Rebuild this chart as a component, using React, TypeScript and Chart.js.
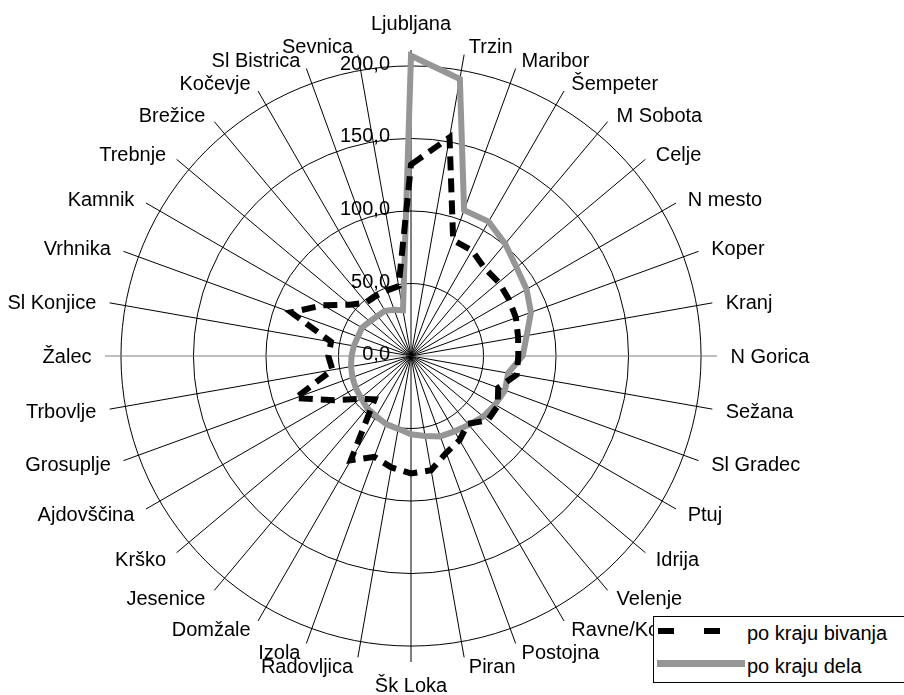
import React, { useEffect, useRef } from "react";
import { Chart, registerables } from "chart.js";

Chart.register(...registerables);

const categories: string[] = [
  "Ljubljana", "Trzin", "Maribor", "Šempeter", "M Sobota", "Celje", "N mesto", "Koper", "Kranj",
  "N Gorica", "Sežana", "Sl Gradec", "Ptuj", "Idrija", "Velenje", "Ravne/Koroška", "Postojna", "Piran",
  "Šk Loka", "Radovljica", "Izola", "Domžale", "Jesenice", "Krško", "Ajdovščina", "Grosuplje", "Trbovlje",
  "Žalec", "Sl Konjice", "Vrhnika", "Kamnik", "Trebnje", "Brežice", "Kočevje", "Sl Bistrica", "Sevnica",
];

const poKrajuBivanja: number[] = [
  132, 153, 85, 84, 79, 79, 78, 77, 75,
  74, 74, 64, 69, 69, 61, 67, 71, 80,
  81, 78, 74, 83, 39, 46, 61, 85, 55,
  57, 56, 88, 70, 55, 48, 48, 48, 49,
];

const poKrajuDela: number[] = [
  207, 194, 107, 107, 101, 95, 92, 88, 81,
  77, 68, 69, 67, 65, 62, 60, 59, 56,
  54, 51, 50, 48, 47, 45, 44, 43, 42,
  41, 40, 39, 39, 37, 36, 36, 34, 32,
];

const seriesNames: string[] = ["po kraju bivanja", "po kraju dela"];
const tickValues: number[] = [0, 50, 100, 150, 200];
const tickLabels: string[] = ["0,0", "50,0", "100,0", "150,0", "200,0"];
const axisMax = 211;

const FONT = '"Liberation Sans", Arial, sans-serif';
const GRAY = "#969696";

const textPlugin = {
  id: "excelText",
  beforeDatasetsDraw(chart: any) {
    const scale = chart.scales.r;
    const ctx = chart.ctx;
    ctx.save();
    ctx.font = `20px ${FONT}`;
    ctx.fillStyle = "#000";
    ctx.textAlign = "right";
    ctx.textBaseline = "middle";
    tickValues.forEach((v, i) => {
      const d = scale.getDistanceFromCenterForValue(v);
      ctx.fillText(tickLabels[i], scale.xCenter - 21, scale.yCenter - d - 1.5);
    });
    ctx.restore();
  },
  afterDraw(chart: any) {
    const scale = chart.scales.r;
    const ctx = chart.ctx;
    ctx.save();
    ctx.font = `20px ${FONT}`;
    ctx.fillStyle = "#000";
    ctx.textBaseline = "alphabetic";
    const R = scale.drawingArea;
    categories.forEach((label, i) => {
      const a = scale.getIndexAngle(i);
      const s = Math.sin(a);
      const c = Math.cos(a);
      const ex = scale.xCenter + R * s;
      const ey = scale.yCenter - R * c;
      let x: number;
      let y: number;
      let align: CanvasTextAlign;
      if (Math.abs(s) < 1e-6) {
        align = "center";
        x = ex;
        y = c > 0 ? ey - 20 : ey + 30;
      } else {
        const dx = 4 + 9.5 * Math.pow(Math.abs(s), 1.5);
        align = s > 0 ? "left" : "right";
        x = ex + (s > 0 ? dx : -dx);
        y = ey - 9 * c + 7.2;
      }
      ctx.textAlign = align;
      ctx.fillText(label, x, y);
    });
    ctx.restore();
  },
};

export default function App() {
  const canvasRef = useRef<HTMLCanvasElement | null>(null);

  useEffect(() => {
    const canvas = canvasRef.current;
    if (!canvas) return;
    const chart = new Chart(canvas, {
      type: "radar",
      data: {
        labels: categories,
        datasets: [
          {
            label: seriesNames[0],
            data: poKrajuBivanja,
            borderColor: "#000",
            borderWidth: 6,
            borderDash: [14, 8],
            borderCapStyle: "butt",
            borderJoinStyle: "miter",
            fill: false,
            pointRadius: 0,
            tension: 0,
          },
          {
            label: seriesNames[1],
            data: poKrajuDela,
            borderColor: GRAY,
            borderWidth: 6,
            borderJoinStyle: "miter",
            fill: false,
            pointRadius: 0,
            tension: 0,
          },
        ],
      },
      options: {
        responsive: false,
        animation: false,
        events: [],
        layout: { padding: { left: 105, right: 187, top: 50, bottom: 33 } },
        plugins: {
          legend: { display: false },
          tooltip: { enabled: false },
          title: { display: false },
        },
        scales: {
          r: {
            min: 0,
            max: axisMax,
            startAngle: 0,
            afterBuildTicks: (scale: any) => {
              scale.ticks = tickValues.map((v) => ({ value: v }));
            },
            ticks: { display: false },
            pointLabels: { display: false },
            grid: { color: "#000", lineWidth: 1, circular: true },
            angleLines: {
              display: true,
              lineWidth: 1,
              color: (ctx: any) => (ctx.index === 9 || ctx.index === 27 ? "#808080" : "#000"),
            },
          },
        },
      },
      plugins: [textPlugin],
    } as any);
    return () => chart.destroy();
  }, []);

  const textStyle: React.CSSProperties = {
    position: "absolute",
    font: `20px ${FONT}`,
    lineHeight: "24px",
    color: "#000",
    whiteSpace: "nowrap",
  };

  return (
    <div
      style={{
        position: "absolute",
        left: 0,
        top: 0,
        width: 904,
        height: 695,
        overflow: "hidden",
        background: "#fff",
      }}
    >
      <canvas ref={canvasRef} width={904} height={695} style={{ display: "block" }} />
      <div
        style={{
          position: "absolute",
          left: 653,
          top: 616,
          width: 270,
          height: 67,
          border: "1px solid #000",
          background: "#fff",
          boxSizing: "border-box",
        }}
      >
        <div style={{ position: "absolute", left: 4, top: 11, width: 16, height: 6, background: "#000" }} />
        <div style={{ position: "absolute", left: 50, top: 11, width: 16, height: 6, background: "#000" }} />
        <div style={{ ...textStyle, left: 93, top: 4 }}>{seriesNames[0]}</div>
        <div style={{ position: "absolute", left: 3, top: 43, width: 88, height: 7, background: GRAY }} />
        <div style={{ ...textStyle, left: 93, top: 37 }}>{seriesNames[1]}</div>
      </div>
    </div>
  );
}
